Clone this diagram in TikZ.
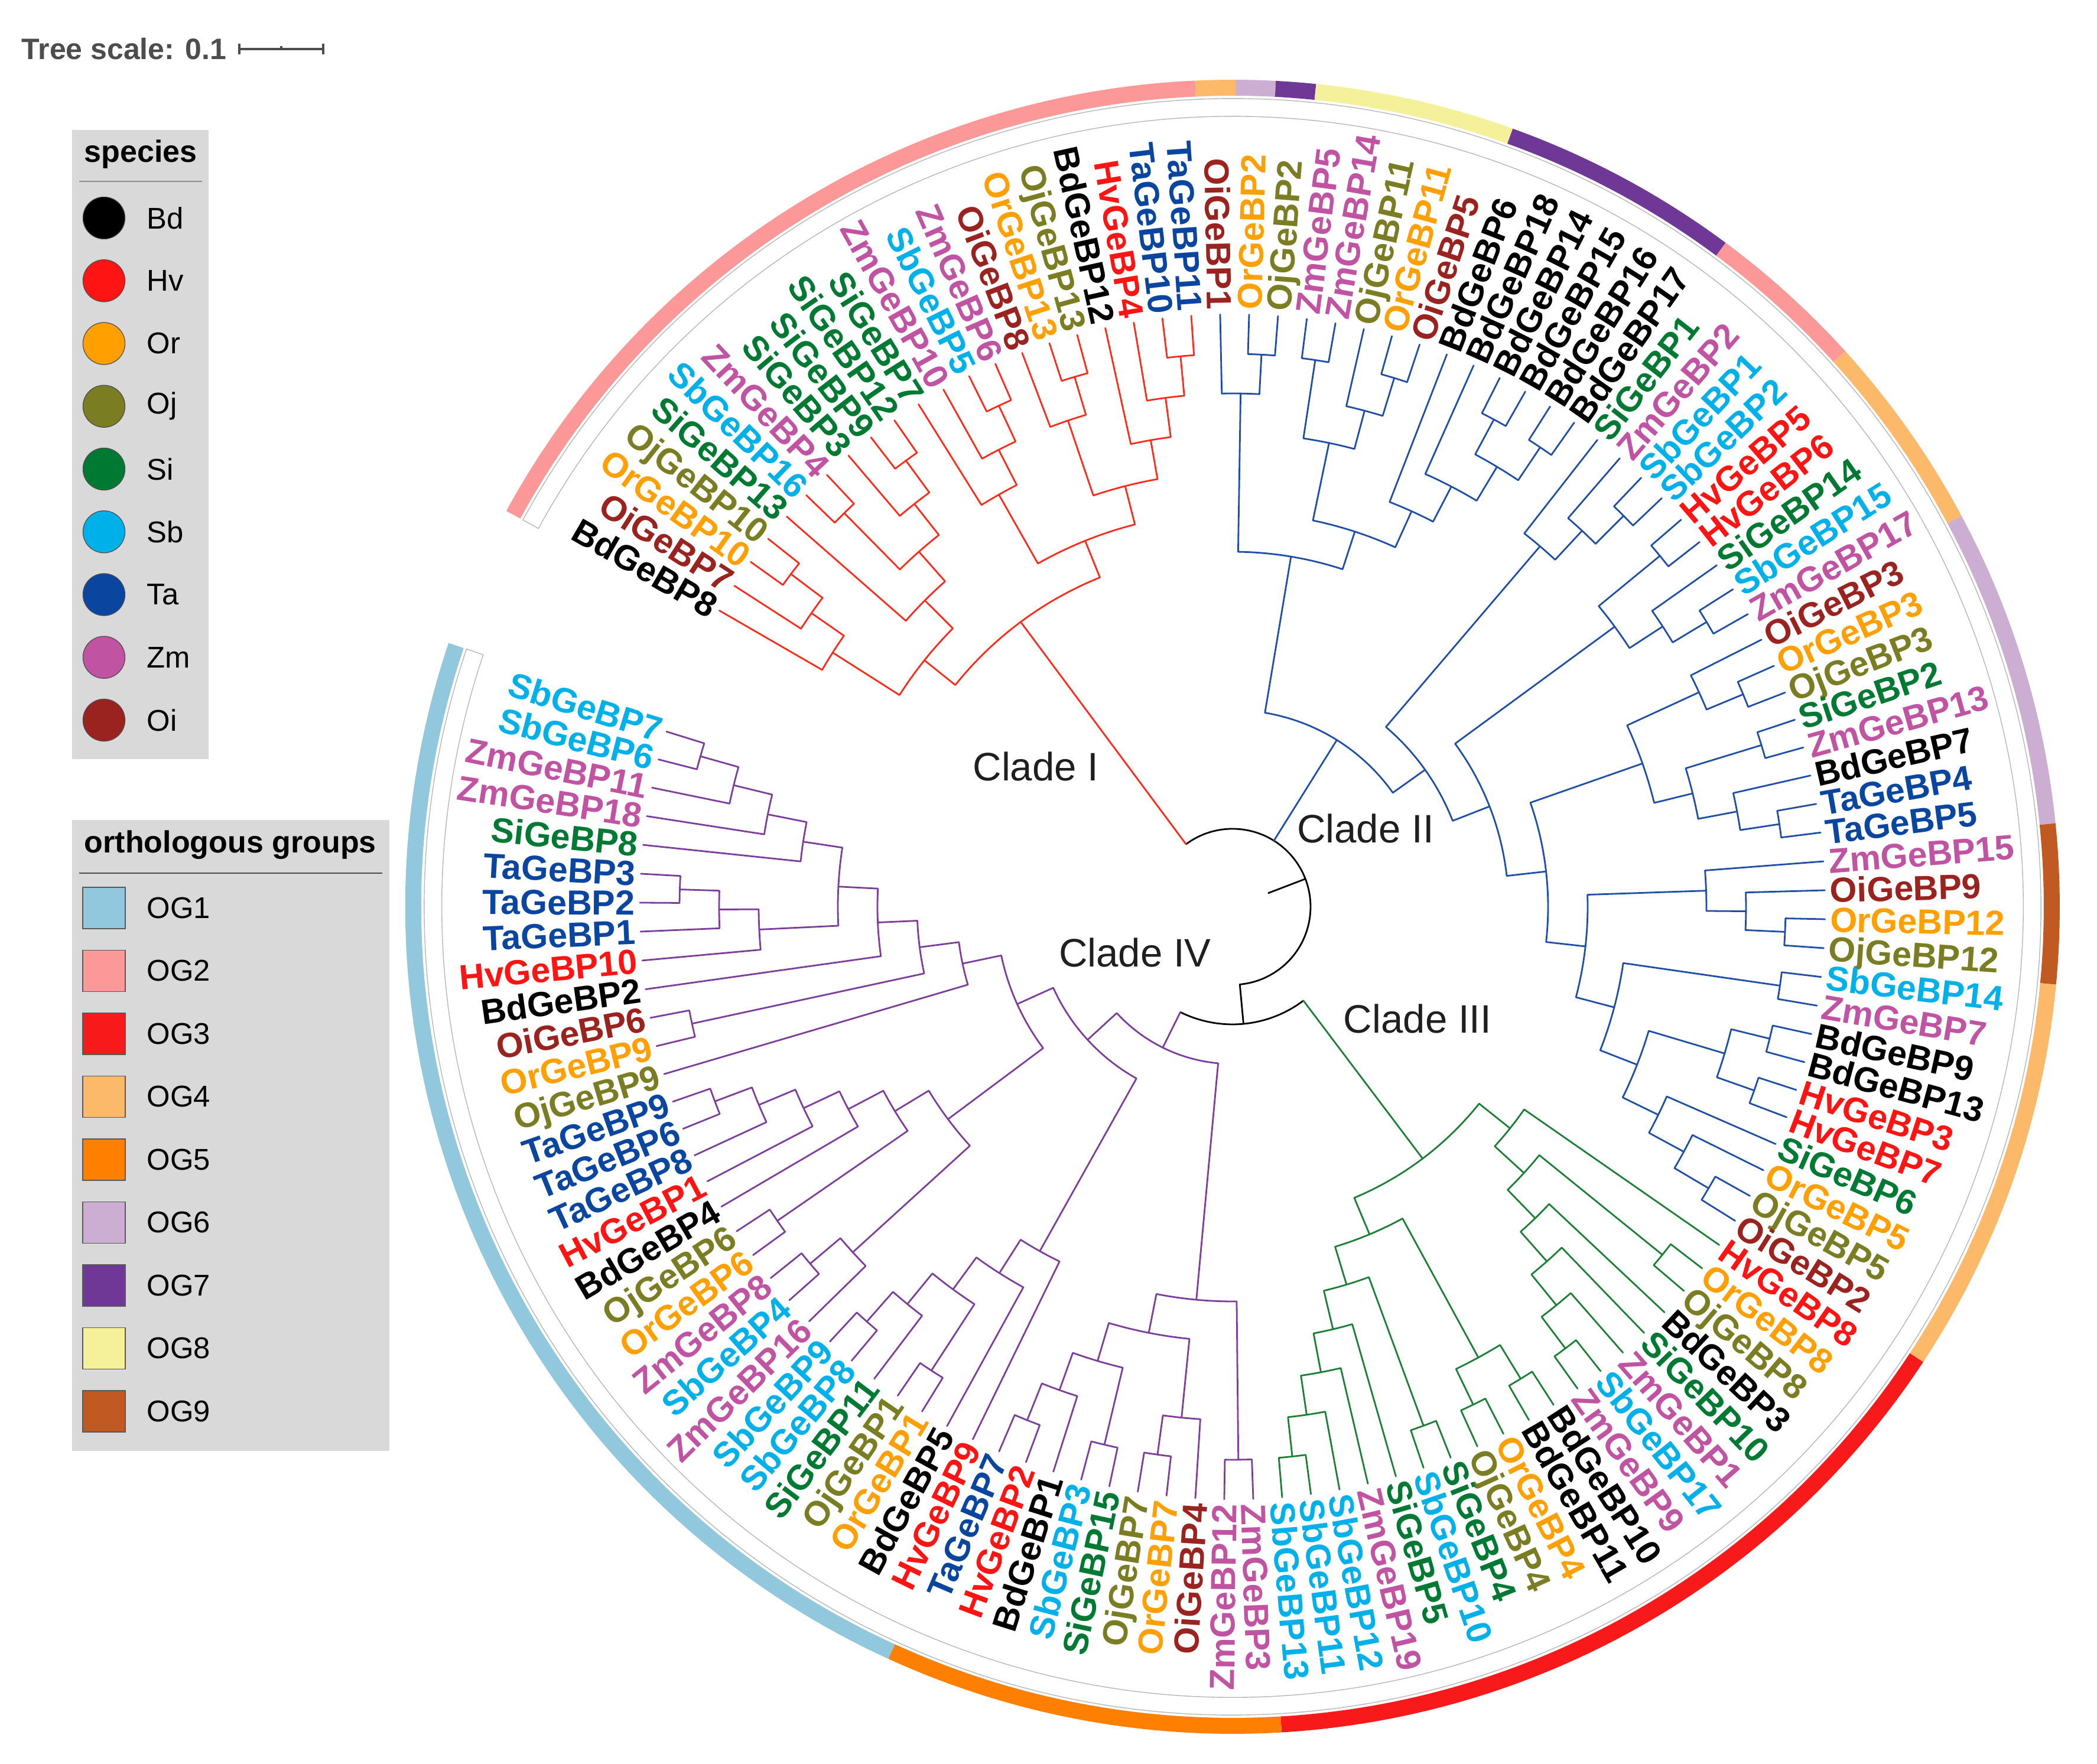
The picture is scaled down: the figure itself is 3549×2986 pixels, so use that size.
\documentclass[tikz,border=0pt]{standalone}
\usepackage{fontspec}
\setmainfont{Liberation Sans}
\definecolor{cBd}{HTML}{000000}
\definecolor{cHv}{HTML}{FF1414}
\definecolor{cOr}{HTML}{FFA000}
\definecolor{cOj}{HTML}{7A7D22}
\definecolor{cSi}{HTML}{007A33}
\definecolor{cSb}{HTML}{00B0E8}
\definecolor{cTa}{HTML}{0A46A0}
\definecolor{cZm}{HTML}{C153A3}
\definecolor{cOi}{HTML}{9A2320}
\definecolor{og1}{HTML}{92C8DE}
\definecolor{og2}{HTML}{FD9898}
\definecolor{og3}{HTML}{F81A1A}
\definecolor{og4}{HTML}{FDB96A}
\definecolor{og5}{HTML}{FF7F00}
\definecolor{og6}{HTML}{CCAED2}
\definecolor{og7}{HTML}{703896}
\definecolor{og8}{HTML}{F5F09A}
\definecolor{og9}{HTML}{C05A22}
\definecolor{cI}{HTML}{FF2A1A}
\definecolor{cII}{HTML}{1F4EA6}
\definecolor{cIII}{HTML}{1B7F35}
\definecolor{cIV}{HTML}{7D3E9B}
\definecolor{legbg}{HTML}{D9D9D9}
\definecolor{tsgray}{HTML}{4D4D4D}
\newcommand\labfont{\fontsize{14.75pt}{16pt}\selectfont\bfseries}
\def\RL{1003}\def\RLL{1011}\def\ST{67}\def\U{0.25}
\tikzset{
  lab/.style={font=\labfont,inner sep=0pt,text height=10.6pt,text depth=0pt},
  br/.style={line width=0.7pt,line join=round,line cap=round},
  legt/.style={font=\fontsize{13pt}{15pt}\selectfont\bfseries,anchor=west,inner sep=0pt},
  lege/.style={font=\fontsize{12.7pt}{15pt}\selectfont,anchor=west,inner sep=0pt},
  cladelab/.style={font=\fontsize{16.8pt}{19pt}\selectfont,text=black!88,inner sep=0pt}
}
% leaf: index, species, number
\newcommand\lf[3]{%
  \pgfmathsetmacro\la{150-2.8*#1}%
  \expandafter\xdef\csname tA#2GeBP#3\endcsname{\la}%
  \expandafter\xdef\csname tH#2GeBP#3\endcsname{0}%
  \coordinate (#2GeBP#3) at (\la:\RL);
  \pgfmathsetmacro\lb{\la+180}%
  \ifnum#1<22 \node[lab,text=c#2,anchor=east,rotate=\lb] (t#2GeBP#3) at (\la:\RLL) {#2GeBP#3};%
  \else\ifnum#1>85 \node[lab,text=c#2,anchor=east,rotate=\lb] (t#2GeBP#3) at (\la:\RLL) {#2GeBP#3};%
  \else \node[lab,text=c#2,anchor=west,rotate=\la] (t#2GeBP#3) at (\la:\RLL) {#2GeBP#3};%
  \fi\fi
}
\newcommand\qcalc[3]{%
  \edef\qAa{\csname tA#2\endcsname}\edef\qAb{\csname tA#3\endcsname}%
  \edef\qHa{\csname tH#2\endcsname}\edef\qHb{\csname tH#3\endcsname}%
  \pgfmathtruncatemacro\qH{1+max(\qHa,\qHb)}%
  \pgfmathsetmacro\qA{(\qAa+\qAb)/2}%
  \pgfmathsetmacro\qR{\RL-\qH*\ST}%
  \pgfmathsetmacro\qRp{\qR*\U}%
  \expandafter\xdef\csname tA#1\endcsname{\qA}%
  \expandafter\xdef\csname tH#1\endcsname{\qH}%
}
% internal node: colour, name, child1, child2
\newcommand\nd[4]{%
  \qcalc{#2}{#3}{#4}%
  \coordinate (#2) at (\qA:\qR);
  \draw[br,#1] (#3) -- (\qAa:\qR) arc[start angle=\qAa,end angle=\qAb,radius=\qRp pt] -- (#4);
}
% node with black arc and coloured child branches
\newcommand\ndsp[5]{%
  \qcalc{#1}{#2}{#4}%
  \coordinate (#1) at (\qA:\qR);
  \draw[br,black] (\qAa:\qR) arc[start angle=\qAa,end angle=\qAb,radius=\qRp pt];
  \draw[br,#3] (\qAa:\qR) -- (#2);
  \draw[br,#5] (\qAb:\qR) -- (#4);
}
\def\RoA{1400}\def\RiA{1373}
\newcommand\ogseg[3]{%
  \pgfmathsetmacro\sa{151.4-2.8*#1}\pgfmathsetmacro\sb{148.6-2.8*#2}%
  \pgfmathsetmacro\rop{\RoA*\U}\pgfmathsetmacro\rip{\RiA*\U}%
  \fill[#3] (\sa:\RoA) arc[start angle=\sa,end angle=\sb,radius=\rop pt] -- (\sb:\RiA) arc[start angle=\sb,end angle=\sa,radius=\rip pt] -- cycle;
}
\begin{document}
\begin{tikzpicture}[x=0.25pt,y=0.25pt]
\fill[white] (-2086,-1451) rectangle (1463,1535);
\useasboundingbox (-2086,-1451) rectangle (1463,1535);
% ---------- rings
\draw[black!28,line width=0.35pt,fill=white] (151.4:1368) arc[start angle=151.4,end angle=-198.6,radius=342pt] -- (-198.6:1338) arc[start angle=-198.6,end angle=151.4,radius=334.5pt] -- cycle;
\ogseg{0}{20}{og2}
\ogseg{21}{21}{og4}
\ogseg{22}{22}{og6}
\ogseg{23}{23}{og7}
\ogseg{24}{28}{og8}
\ogseg{29}{34}{og7}
\ogseg{35}{38}{og2}
\ogseg{39}{43}{og4}
\ogseg{44}{51}{og6}
\ogseg{52}{55}{og9}
\ogseg{56}{65}{og4}
\ogseg{66}{84}{og3}
\ogseg{85}{94}{og5}
\ogseg{95}{124}{og1}
% ---------- leaves
\lf{0}{Bd}{8}\lf{1}{Oi}{7}\lf{2}{Or}{10}\lf{3}{Oj}{10}\lf{4}{Si}{13}
\lf{5}{Sb}{16}\lf{6}{Zm}{4}\lf{7}{Si}{3}\lf{8}{Si}{9}\lf{9}{Si}{12}
\lf{10}{Si}{7}\lf{11}{Zm}{10}\lf{12}{Sb}{5}\lf{13}{Zm}{6}\lf{14}{Oi}{8}
\lf{15}{Or}{13}\lf{16}{Oj}{13}\lf{17}{Bd}{12}\lf{18}{Hv}{4}\lf{19}{Ta}{10}
\lf{20}{Ta}{11}\lf{21}{Oi}{1}\lf{22}{Or}{2}\lf{23}{Oj}{2}\lf{24}{Zm}{5}
\lf{25}{Zm}{14}\lf{26}{Oj}{11}\lf{27}{Or}{11}\lf{28}{Oi}{5}\lf{29}{Bd}{6}
\lf{30}{Bd}{18}\lf{31}{Bd}{14}\lf{32}{Bd}{15}\lf{33}{Bd}{16}\lf{34}{Bd}{17}
\lf{35}{Si}{1}\lf{36}{Zm}{2}\lf{37}{Sb}{1}\lf{38}{Sb}{2}\lf{39}{Hv}{5}
\lf{40}{Hv}{6}\lf{41}{Si}{14}\lf{42}{Sb}{15}\lf{43}{Zm}{17}\lf{44}{Oi}{3}
\lf{45}{Or}{3}\lf{46}{Oj}{3}\lf{47}{Si}{2}\lf{48}{Zm}{13}\lf{49}{Bd}{7}
\lf{50}{Ta}{4}\lf{51}{Ta}{5}\lf{52}{Zm}{15}\lf{53}{Oi}{9}\lf{54}{Or}{12}
\lf{55}{Oj}{12}\lf{56}{Sb}{14}\lf{57}{Zm}{7}\lf{58}{Bd}{9}\lf{59}{Bd}{13}
\lf{60}{Hv}{3}\lf{61}{Hv}{7}\lf{62}{Si}{6}\lf{63}{Or}{5}\lf{64}{Oj}{5}
\lf{65}{Oi}{2}\lf{66}{Hv}{8}\lf{67}{Or}{8}\lf{68}{Oj}{8}\lf{69}{Bd}{3}
\lf{70}{Si}{10}\lf{71}{Zm}{1}\lf{72}{Sb}{17}\lf{73}{Zm}{9}\lf{74}{Bd}{10}
\lf{75}{Bd}{11}\lf{76}{Or}{4}\lf{77}{Oj}{4}\lf{78}{Si}{4}\lf{79}{Sb}{10}
\lf{80}{Si}{5}\lf{81}{Zm}{19}\lf{82}{Sb}{12}\lf{83}{Sb}{11}\lf{84}{Sb}{13}
\lf{85}{Zm}{3}\lf{86}{Zm}{12}\lf{87}{Oi}{4}\lf{88}{Or}{7}\lf{89}{Oj}{7}
\lf{90}{Si}{15}\lf{91}{Sb}{3}\lf{92}{Bd}{1}\lf{93}{Hv}{2}\lf{94}{Ta}{7}
\lf{95}{Hv}{9}\lf{96}{Bd}{5}\lf{97}{Or}{1}\lf{98}{Oj}{1}\lf{99}{Si}{11}
\lf{100}{Sb}{8}\lf{101}{Sb}{9}\lf{102}{Zm}{16}\lf{103}{Sb}{4}\lf{104}{Zm}{8}
\lf{105}{Or}{6}\lf{106}{Oj}{6}\lf{107}{Bd}{4}\lf{108}{Hv}{1}\lf{109}{Ta}{8}
\lf{110}{Ta}{6}\lf{111}{Ta}{9}\lf{112}{Oj}{9}\lf{113}{Or}{9}\lf{114}{Oi}{6}
\lf{115}{Bd}{2}\lf{116}{Hv}{10}\lf{117}{Ta}{1}\lf{118}{Ta}{2}\lf{119}{Ta}{3}
\lf{120}{Si}{8}\lf{121}{Zm}{18}\lf{122}{Zm}{11}\lf{123}{Sb}{6}\lf{124}{Sb}{7}
% ---------- Clade I
\nd{cI}{a1x}{OrGeBP10}{OjGeBP10}
\nd{cI}{a1y}{OiGeBP7}{a1x}
\nd{cI}{A1}{BdGeBP8}{a1y}
\nd{cI}{a2x}{SbGeBP16}{ZmGeBP4}
\nd{cI}{a2y}{SiGeBP9}{SiGeBP12}
\nd{cI}{a2z}{SiGeBP3}{a2y}
\nd{cI}{a2w}{a2x}{a2z}
\nd{cI}{A2}{SiGeBP13}{a2w}
\nd{cI}{A}{A1}{A2}
\nd{cI}{b1x}{SbGeBP5}{ZmGeBP6}
\nd{cI}{b1y}{ZmGeBP10}{b1x}
\nd{cI}{B1}{SiGeBP7}{b1y}
\nd{cI}{b2x}{OrGeBP13}{OjGeBP13}
\nd{cI}{b2y}{OiGeBP8}{b2x}
\nd{cI}{b2t}{TaGeBP10}{TaGeBP11}
\nd{cI}{b2h}{HvGeBP4}{b2t}
\nd{cI}{b2b}{BdGeBP12}{b2h}
\nd{cI}{B2}{b2y}{b2b}
\nd{cI}{B}{B1}{B2}
\nd{cI}{CI}{A}{B}
% ---------- Clade II
\nd{cII}{p1}{OrGeBP2}{OjGeBP2}
\nd{cII}{C2aL}{OiGeBP1}{p1}
\nd{cII}{p2}{ZmGeBP5}{ZmGeBP14}
\nd{cII}{p3}{OrGeBP11}{OiGeBP5}
\nd{cII}{p4}{OjGeBP11}{p3}
\nd{cII}{P}{p2}{p4}
\nd{cII}{q1}{BdGeBP14}{BdGeBP15}
\nd{cII}{q2}{BdGeBP16}{BdGeBP17}
\nd{cII}{q3}{q1}{q2}
\nd{cII}{q4}{BdGeBP18}{q3}
\nd{cII}{BdG}{BdGeBP6}{q4}
\nd{cII}{C2aR}{P}{BdG}
\nd{cII}{C2a}{C2aL}{C2aR}
\nd{cII}{s1}{SbGeBP1}{SbGeBP2}
\nd{cII}{s2}{ZmGeBP2}{s1}
\nd{cII}{C2bL}{SiGeBP1}{s2}
\nd{cII}{d1}{HvGeBP5}{HvGeBP6}
\nd{cII}{d2}{SbGeBP15}{ZmGeBP17}
\nd{cII}{d3}{SiGeBP14}{d2}
\nd{cII}{D1}{d1}{d3}
\nd{cII}{f1}{OrGeBP3}{OjGeBP3}
\nd{cII}{F1}{OiGeBP3}{f1}
\nd{cII}{f2}{SiGeBP2}{ZmGeBP13}
\nd{cII}{f3}{TaGeBP4}{TaGeBP5}
\nd{cII}{f4}{BdGeBP7}{f3}
\nd{cII}{F2}{f2}{f4}
\nd{cII}{E1}{F1}{F2}
\nd{cII}{g1}{OrGeBP12}{OjGeBP12}
\nd{cII}{g2}{OiGeBP9}{g1}
\nd{cII}{G1}{ZmGeBP15}{g2}
\nd{cII}{H1}{SbGeBP14}{ZmGeBP7}
\nd{cII}{i1}{BdGeBP9}{BdGeBP13}
\nd{cII}{i2}{HvGeBP3}{HvGeBP7}
\nd{cII}{I1}{i1}{i2}
\nd{cII}{i3}{OjGeBP5}{OiGeBP2}
\nd{cII}{i4}{OrGeBP5}{i3}
\nd{cII}{I2}{SiGeBP6}{i4}
\nd{cII}{H2}{I1}{I2}
\nd{cII}{G2}{H1}{H2}
\nd{cII}{E2}{G1}{G2}
\nd{cII}{D2}{E1}{E2}
\nd{cII}{C2bR}{D1}{D2}
\nd{cII}{C2b}{C2bL}{C2bR}
\nd{cII}{CII}{C2a}{C2b}
% ---------- Clade III
\nd{cIII}{n1}{SbGeBP17}{ZmGeBP9}
\nd{cIII}{n2}{ZmGeBP1}{n1}
\nd{cIII}{n3}{SiGeBP10}{n2}
\nd{cIII}{n4}{BdGeBP3}{n3}
\nd{cIII}{n5}{OrGeBP8}{OjGeBP8}
\nd{cIII}{n6}{n5}{n4}
\nd{cIII}{J1}{HvGeBP8}{n6}
\nd{cIII}{o1}{BdGeBP10}{BdGeBP11}
\nd{cIII}{o2}{OrGeBP4}{OjGeBP4}
\nd{cIII}{O1}{o1}{o2}
\nd{cIII}{o3}{SiGeBP4}{SbGeBP10}
\nd{cIII}{o4}{SbGeBP11}{SbGeBP13}
\nd{cIII}{o5}{SbGeBP12}{o4}
\nd{cIII}{o6}{ZmGeBP19}{o5}
\nd{cIII}{o7}{SiGeBP5}{o6}
\nd{cIII}{O2}{o3}{o7}
\nd{cIII}{J2}{O1}{O2}
\nd{cIII}{CIII}{J1}{J2}
% ---------- Clade IV
\nd{cIV}{u1}{ZmGeBP3}{ZmGeBP12}
\nd{cIV}{v1}{OrGeBP7}{OjGeBP7}
\nd{cIV}{V1}{OiGeBP4}{v1}
\nd{cIV}{w1}{SiGeBP15}{SbGeBP3}
\nd{cIV}{w2}{HvGeBP2}{TaGeBP7}
\nd{cIV}{w3}{BdGeBP1}{w2}
\nd{cIV}{V2}{w1}{w3}
\nd{cIV}{U2}{V1}{V2}
\nd{cIV}{T2}{u1}{U2}
\nd{cIV}{x1}{OrGeBP1}{OjGeBP1}
\nd{cIV}{x2}{SbGeBP8}{SbGeBP9}
\nd{cIV}{x3}{SiGeBP11}{x2}
\nd{cIV}{x4}{x1}{x3}
\nd{cIV}{x5}{BdGeBP5}{x4}
\nd{cIV}{X2}{HvGeBP9}{x5}
\nd{cIV}{y1}{SbGeBP4}{ZmGeBP8}
\nd{cIV}{y2}{ZmGeBP16}{y1}
\nd{cIV}{y3}{OrGeBP6}{OjGeBP6}
\nd{cIV}{y4}{TaGeBP6}{TaGeBP9}
\nd{cIV}{y5}{TaGeBP8}{y4}
\nd{cIV}{y6}{HvGeBP1}{y5}
\nd{cIV}{y7}{BdGeBP4}{y6}
\nd{cIV}{y8}{y3}{y7}
\nd{cIV}{AB}{y2}{y8}
\nd{cIV}{z1}{OrGeBP9}{OiGeBP6}
\nd{cIV}{z2}{TaGeBP2}{TaGeBP3}
\nd{cIV}{z3}{TaGeBP1}{z2}
\nd{cIV}{z4}{HvGeBP10}{z3}
\nd{cIV}{z5}{SbGeBP6}{SbGeBP7}
\nd{cIV}{z6}{ZmGeBP11}{z5}
\nd{cIV}{z7}{ZmGeBP18}{z6}
\nd{cIV}{z8}{SiGeBP8}{z7}
\nd{cIV}{BB}{z4}{z8}
\nd{cIV}{CC}{BdGeBP2}{BB}
\nd{cIV}{DD}{z1}{CC}
\nd{cIV}{AA}{OjGeBP9}{DD}
\nd{cIV}{X1}{AB}{AA}
\nd{cIV}{T1}{X2}{X1}
\nd{cIV}{CIV}{T2}{T1}
% ---------- root
\ndsp{C34}{CIII}{cIII}{CIV}{cIV}
\edef\qAa{\csname tACI\endcsname}\edef\qAm{\csname tACII\endcsname}\edef\qAb{\csname tAC34\endcsname}
\pgfmathsetmacro\qR{\RL-13*\ST}\pgfmathsetmacro\qRp{\qR*\U}
\pgfmathsetmacro\qA{(\qAa+\qAb)/2}\pgfmathsetmacro\qRs{\RL-14*\ST}
\coordinate (RT) at (\qA:\qR);
\coordinate (RS) at (\qA:\qRs);
\draw[br,black] (\qAa:\qR) arc[start angle=\qAa,end angle=\qAb,radius=\qRp pt];
\draw[br,cI] (\qAa:\qR) -- (CI);
\draw[br,cII] (\qAm:\qR) -- (CII);
\draw[br,black] (\qAb:\qR) -- (C34);
\draw[br,black] (RS) -- (RT);
% ---------- clade labels
\node[cladelab] (lc1) at (-333,238) {Clade I};
\node[cladelab] (lc2) at (225,133) {Clade II};
\node[cladelab] (lc4) at (-165,-77) {Clade IV};
\node[cladelab] (lc3) at (313,-189) {Clade III};
% ---------- tree scale
\node[font=\fontsize{12.5pt}{14pt}\selectfont\bfseries,text=tsgray,anchor=west,inner sep=0pt] (ts) at (-2050,1452) {Tree scale: 0.1};
\coordinate (tsa) at (-1681,1452);
\coordinate (tsb) at (-1539,1452);
\draw[tsgray,line width=0.8pt] (tsa) -- (tsb);
\draw[tsgray,line width=1pt] ([yshift=-2.2pt]tsa) -- ([yshift=2.2pt]tsa);
\draw[tsgray,line width=1pt] ([yshift=-2.2pt]tsb) -- ([yshift=2.2pt]tsb);
\draw[tsgray,line width=0.8pt] (-1610,1452) -- (-1610,1457);
% ---------- species legend
\fill[legbg] (-1964,1315) rectangle (-1733,250);
\node[legt] (spt) at (-1944,1274) {species};
\draw[black!45,line width=0.4pt] (-1952,1228) -- (-1744,1228);
\foreach \s [count=\k] in {Bd,Hv,Or,Oj,Si,Sb,Ta,Zm,Oi}{
  \pgfmathsetmacro\yy{1166-106.25*(\k-1)}
  \filldraw[fill=c\s,draw=black!70,line width=0.3pt] (-1910,\yy) circle[radius=8.9pt];
  \node[lege] (sp\s) at (-1838,\yy) {\s};
}
% ---------- orthologous groups legend
\fill[legbg] (-1964,147) rectangle (-1427,-921);
\node[legt] (ogt) at (-1944,105) {orthologous groups};
\draw[black!70,line width=0.4pt] (-1952,57) -- (-1439,57);
\foreach \k in {1,...,9}{
  \pgfmathsetmacro\yy{-2-106.5*(\k-1)}
  \filldraw[fill=og\k,draw=black!65,line width=0.4pt] (-1946,\yy-35) rectangle (-1874,\yy+35);
  \node[lege] (ogl\k) at (-1838,\yy) {OG\k};
}
\end{tikzpicture}
\end{document}
